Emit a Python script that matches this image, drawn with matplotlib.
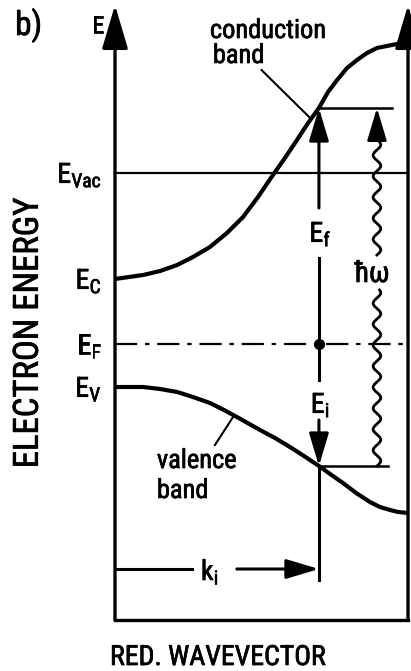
import numpy as np
import matplotlib
matplotlib.use("Agg")
import matplotlib.pyplot as plt
import matplotlib.patheffects as pe
from matplotlib import font_manager

# ---- band structure (reduced wavevector k in [0, 1], energy relative to E_F) ----
k_cond = [0.0, 0.048, 0.096, 0.154, 0.212, 0.266, 0.324, 0.382, 0.437, 0.488, 0.539,
          0.580, 0.621, 0.659, 0.696, 0.727, 0.758, 0.792, 0.826, 0.860, 0.894, 0.928, 0.962, 1.0]
E_cond = [1.30, 1.34, 1.38, 1.46, 1.58, 1.74, 1.94, 2.22, 2.54, 2.94, 3.38,
          3.72, 4.08, 4.42, 4.72, 5.04, 5.28, 5.52, 5.68, 5.82, 5.92, 5.96, 6.00, 6.02]

k_val = [0.0, 0.096, 0.154, 0.212, 0.266, 0.324, 0.372, 0.416, 0.495, 0.546, 0.597,
         0.645, 0.696, 0.734, 0.778, 0.823, 0.870, 0.904, 0.939, 0.966, 1.0]
E_val = [-0.86, -0.86, -0.90, -0.96, -1.06, -1.18, -1.32, -1.46, -1.72, -1.88, -2.06,
         -2.24, -2.44, -2.60, -2.78, -2.98, -3.16, -3.26, -3.32, -3.36, -3.38]

# energy levels
level_values = [3.42, 1.30, 0.0, -0.86]
level_labels = [r"$\mathregular{E_{Vac}}$", r"$\mathregular{E_C}$",
                r"$\mathregular{E_F}$", r"$\mathregular{E_V}$"]

# optical transition
k_i = 0.696
E_final = 4.72
E_initial = -2.44
k_bracket = -4.5


def pick_font():
    """Prefer a narrow sans face for the lettering."""
    entries = font_manager.fontManager.ttflist
    for name in ("Liberation Sans Narrow", "Roboto Condensed", "Open Sans Condensed",
                 "Noto Sans Condensed", "DejaVu Sans Condensed"):
        if any(f.name == name for f in entries):
            return name, "normal"
    for fam in ("DejaVu Sans", "Noto Sans", "Open Sans", "Roboto"):
        for f in entries:
            if f.name == fam and "condensed" in str(f.stretch) and f.weight in (400, "normal", "regular"):
                return fam, "condensed"
    for f in entries:
        if ("Condensed" in f.name or "Narrow" in f.name) and "Mono" not in f.name:
            return f.name, "normal"
    return "Liberation Sans", "normal"


font, stretch = pick_font()
plt.rcParams["font.family"] = [font, "DejaVu Sans"]
plt.rcParams["font.stretch"] = stretch
plt.rcParams["font.weight"] = "normal"

fig = plt.figure(figsize=(4.11, 6.71), dpi=100)
ax = fig.add_axes([0, 0, 1, 1])
ax.set_xlim(-0.3925, 1.0102)
ax.set_ylim(-6.54, 6.88)
ax.axis("off")

K = "black"
frame_bottom = -5.52
axis_top = 6.78
# pen-drawn lettering is a little heavier than the regular face
pen = [pe.withStroke(linewidth=0.5, foreground=K)]


def label(x, y, s, **kw):
    return ax.text(x, y, s, color=K, path_effects=pen, **kw)


def arrow(x0, y0, x1, y1, lw=2.0, hl=1.0, hw=0.3, ms=20):
    ax.annotate("", xy=(x1, y1), xytext=(x0, y0),
                arrowprops=dict(arrowstyle=f"-|>,head_length={hl},head_width={hw}",
                                mutation_scale=ms, lw=lw, color=K,
                                shrinkA=0, shrinkB=0))


# frame: energy axis with arrow, right boundary with arrow, bottom line
arrow(0, frame_bottom, 0, axis_top, lw=2.4, hl=1.35, hw=0.4)
arrow(1.0, frame_bottom, 1.0, axis_top, lw=2.4, hl=1.35, hw=0.4)
ax.plot([0, 1.0], [frame_bottom, frame_bottom], color=K, lw=2.4, solid_capstyle="projecting")

# bands
ax.plot(k_cond, E_cond, color=K, lw=3.0, solid_joinstyle="round", solid_capstyle="butt")
ax.plot(k_val, E_val, color=K, lw=3.0, solid_joinstyle="round", solid_capstyle="butt")

# vacuum level and Fermi level
ax.plot([0, 1.0], [level_values[0]] * 2, color=K, lw=1.6)
ax.plot([0, 1.0], [level_values[2]] * 2, color=K, lw=1.6, dashes=(10, 3.5, 2, 3.5))

# level labels on the energy axis
for val, lab in zip(level_values, level_labels):
    label(-0.045, val - 0.2, lab, ha="right", va="baseline", fontsize=20)

# transition at k_i
ax.plot([k_i, k_i], [E_initial, -4.72], color=K, lw=2.2)
ax.plot([k_i, k_i], [0, 1.72], color=K, lw=2.2)
arrow(k_i, 2.72, k_i, E_final, lw=2.2)
ax.plot([k_i, k_i], [0, -0.72], color=K, lw=2.2)
arrow(k_i, -1.52, k_i, E_initial, lw=2.2)
ax.plot([k_i], [0], "o", color=K, ms=7)
ax.plot([k_i, 0.945], [E_final, E_final], color=K, lw=1.8)
ax.plot([k_i, 0.932], [E_initial, E_initial], color=K, lw=1.8)
label(k_i + 0.005, 2.04, r"$\mathregular{E_f}$", ha="center", va="baseline", fontsize=20)
label(k_i + 0.005, -1.38, r"$\mathregular{E_i}$", ha="center", va="baseline", fontsize=20)

# photon: wavy arrow
k_ph = 0.894
amp = 0.013
wl = 0.42
yl = np.linspace(E_initial, 1.08, 300)
ax.plot(k_ph + amp * np.sin(2 * np.pi * (yl - E_initial) / wl), yl, color=K, lw=2.0)
yu = np.linspace(1.78, 4.1, 200)
ax.plot(k_ph + amp * np.sin(2 * np.pi * (yu - 1.78) / wl), yu, color=K, lw=2.0)
arrow(k_ph, 4.1, k_ph, E_final, lw=2.0)
label(0.877, 1.24, "ħω", ha="center", va="baseline", fontsize=21)

# k_i bracket
ax.plot([0, 0.263], [k_bracket, k_bracket], color=K, lw=2.2)
arrow(0.416, k_bracket, k_i, k_bracket, lw=2.2)
label(0.324, -4.72, r"$\mathregular{k_i}$", ha="center", va="baseline", fontsize=20)

# band annotations
label(0.324, 6.12, "conduction", ha="left", va="baseline", fontsize=19)
label(0.334, 5.62, "band", ha="left", va="baseline", fontsize=19)
ax.plot([0.50, 0.666], [5.48, 4.52], color=K, lw=1.5)
label(0.143, -2.48, "valence", ha="left", va="baseline", fontsize=19)
label(0.143, -3.08, "band", ha="left", va="baseline", fontsize=19)
ax.plot([0.341, 0.403], [-2.02, -1.46], color=K, lw=1.5)

# panel mark and axis titles
label(-0.341, 6.18, "b)", ha="left", va="baseline", fontsize=24)
label(-0.0785, 6.22, "E", ha="left", va="baseline", fontsize=17)
label(-0.296, 0.22, "ELECTRON ENERGY", rotation=90, ha="center", va="center", fontsize=25)
label(-0.017, -6.42, "RED. WAVEVECTOR", ha="left", va="baseline", fontsize=20)

fig.savefig("out.png", dpi=100)
